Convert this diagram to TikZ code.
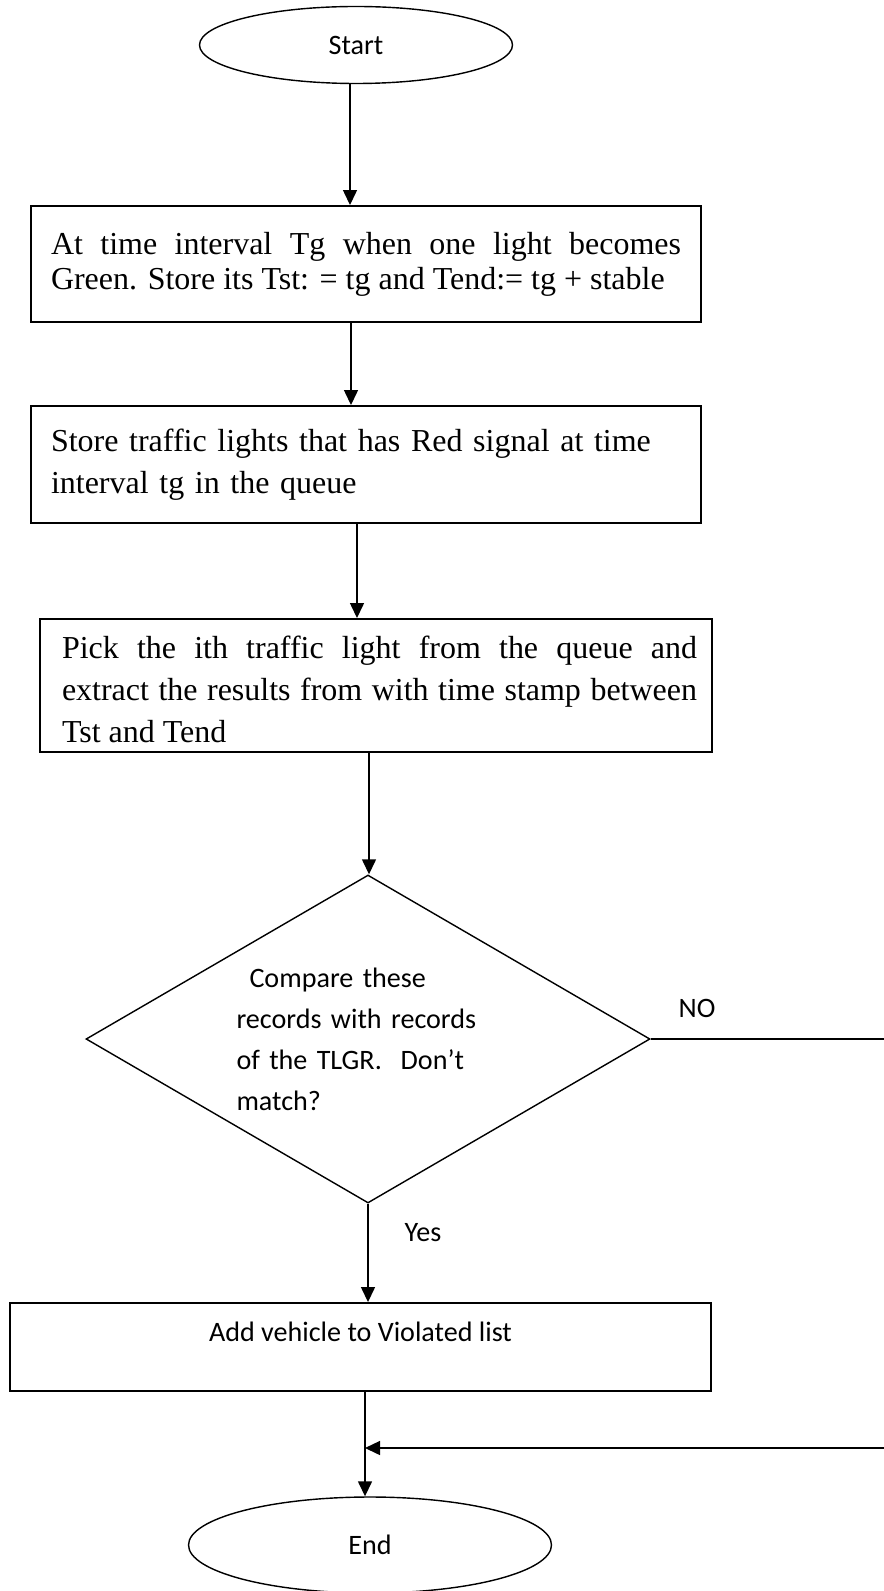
\documentclass[tikz,border=0pt]{standalone}
\usepackage{fontspec}
\setmainfont{Liberation Serif}
\newfontfamily\calibri{Carlito}
\usetikzlibrary{shapes.geometric,arrows.meta,calc}

\begin{document}
\begin{tikzpicture}[>={Triangle[length=0.3cm,width=0.28cm]},
        terminal/.style={draw,ellipse,line width=0.8pt,inner sep=0pt,
            font=\calibri\fontsize{16}{19}\selectfont},
        procbox/.style={draw,rectangle,line width=1.1pt,inner xsep=0.4cm,
            text width=12.6cm,font=\fontsize{18.2}{24}\selectfont},
        actbox/.style={draw,rectangle,line width=1.1pt,align=center,
            font=\calibri\fontsize{16}{19}\selectfont},
        decision/.style={draw,diamond,aspect=1.72,line width=0.8pt,inner sep=0pt,
            text width=5.26cm,align=left,font=\calibri\fontsize{16}{23.3}\selectfont},
        lbl/.style={font=\calibri\fontsize{16}{19}\selectfont},
        flowline/.style={->,line width=0.8pt}]
        \useasboundingbox (0,0) rectangle (17.68,-31.82);

        % Terminals
        \node[terminal,minimum width=6.26cm,minimum height=1.54cm] (start) at (7.12,-0.9) {Start};
        \node[terminal,minimum width=7.26cm,minimum height=1.92cm] (finish) at (7.4,-30.9) {End};

        % Process boxes
        \node[procbox,align=justify,minimum height=2.32cm,
            font=\fontsize{18.2}{20}\selectfont] (tgreen) at (7.32,-5.28)
            {At time interval Tg when one light becomes\linebreak
             Green. Store its Tst: = tg and Tend:= tg + stable};
        \node[procbox,align=left,minimum height=2.34cm] (redqueue) at (7.32,-9.29)
            {Store traffic lights that has Red signal at time\\
             interval tg in the queue};

        % Last line of this box runs past its clip
        \node[procbox,minimum width=13.44cm,minimum height=2.66cm] (pick) at (7.52,-13.71) {};
        \begin{scope}
            \clip (pick.north west) rectangle ($(pick.south east)+(0,0.21)$);
            \node[procbox,draw=none,inner ysep=0pt,text width=12.7cm,align=justify,
                anchor=north west] (picktext) at ($(pick.north west)+(0.04,-0.34)$)
                {Pick the ith traffic light from the queue and\linebreak
                 extract the results from with time stamp between\linebreak
                 Tst and Tend};
        \end{scope}

        % Decision
        \node[decision,minimum width=11.28cm,minimum height=6.56cm] (compare) at (7.36,-20.78)
            {\hspace*{0.26cm}Compare these\\
             records with records\\
             of the TLGR.\ \ Don’t\\
             match?};

        \node[actbox,minimum width=14.02cm,minimum height=1.76cm,
            text height=0.4cm,text depth=0.64cm] (addviol) at (7.21,-26.94)
            {Add vehicle to Violated list};

        % Labels
        \node[lbl] (yeslbl) at (8.46,-24.66) {Yes};
        \node[lbl] (nolbl) at (13.94,-20.16) {NO};

        % Flow lines
        \draw[flowline] ([xshift=-0.12cm]start.south) -- ([xshift=-0.12cm]start.south |- tgreen.north);
        \draw[flowline] ([xshift=-0.3cm]tgreen.south) -- ([xshift=-0.3cm]tgreen.south |- redqueue.north);
        \draw[flowline] ([xshift=-0.18cm]redqueue.south) -- ([xshift=-0.18cm]redqueue.south |- pick.north);
        \draw[flowline] ([xshift=-0.14cm]pick.south) -- ([xshift=-0.14cm]pick.south |- compare.north);
        \draw[flowline] (compare.south) -- (compare.south |- addviol.north);
        \coordinate (drop) at ([xshift=0.09cm]addviol.south);
        \draw[flowline] (drop) -- (drop |- finish.north);

        % NO branch, leaving and coming back
        \coordinate (noexit) at (17.68,-20.78);
        \coordinate (noback) at (17.68,-28.96);
        \draw[line width=0.8pt] (compare.east) -- (compare.east -| noexit);
        \draw[flowline] (noback) -- (noback -| drop);
    \end{tikzpicture}
\end{document}
